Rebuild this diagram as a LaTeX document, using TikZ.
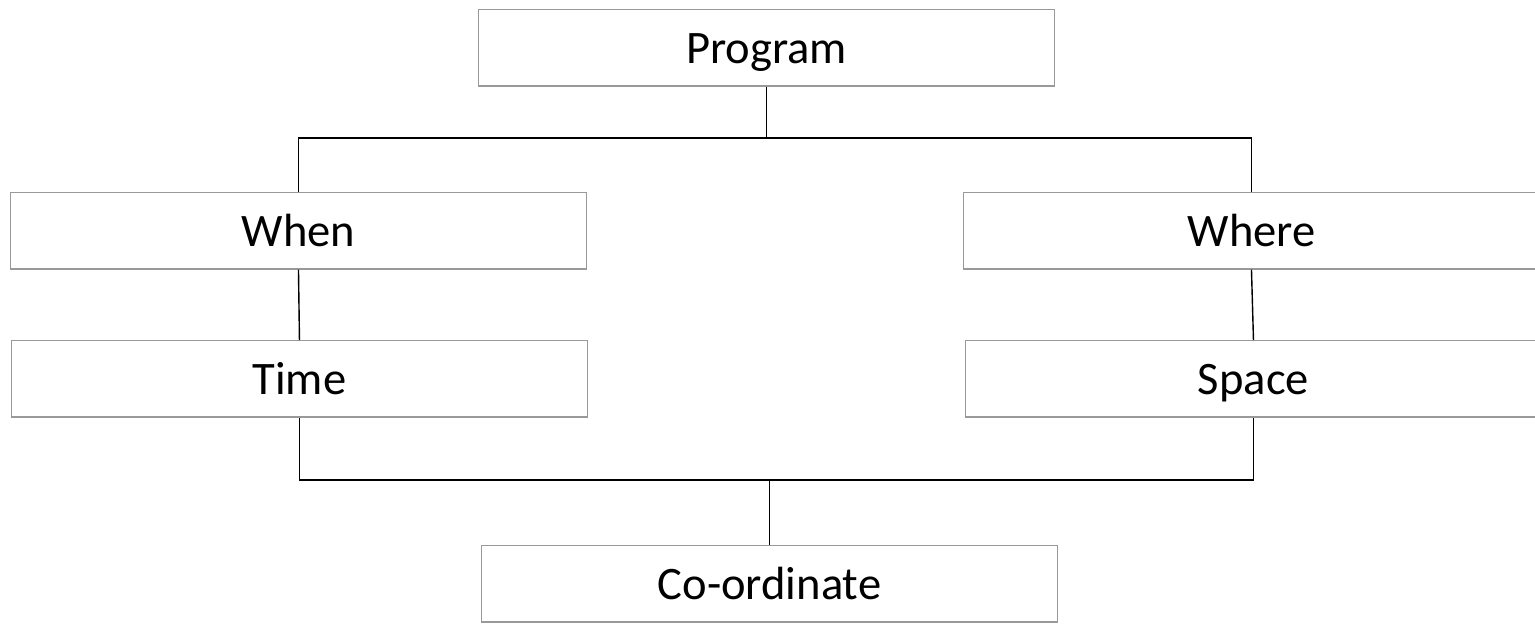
\documentclass[tikz,border=0pt]{standalone}
\usepackage{fontspec}
\setmainfont{Carlito}
\usepackage{tikz}
\usetikzlibrary{positioning,calc}

\begin{document}
\begin{tikzpicture}[x=0.02cm,y=-0.02cm,
  box/.style={draw=black!40,line width=0.6pt,fill=white,minimum width=11.52cm,minimum height=1.53cm,
    anchor=north west,inner sep=0pt,text height=22pt,text depth=3.8pt,font=\fontsize{26.5}{30}\selectfont},
  link/.style={draw=black,line width=0.8pt}]
\useasboundingbox (0,0) rectangle (1535,623);
\clip (0,0) rectangle (1535,623);
% boxes
\node[box] (prog)  at (478,9)   {Program};
\node[box] (when)  at (10,192)  {When};
\node[box] (where) at (963,192) {Where};
\node[box] (time)  at (11,340)  {Time};
\node[box] (space) at (965,340) {Space};
\node[box] (coord) at (481,545) {Co-ordinate};
% bars
\coordinate (topbar) at (766,138);
\coordinate (botbar) at (769,480);
\draw[link] (prog.south) -- (prog.south |- topbar);
\draw[link] (when.north) -- (when.north |- topbar) -- (where.north |- topbar) -- (where.north);
\draw[link] (when.south) -- (time.north);
\draw[link] (where.south) -- (space.north);
\draw[link] (time.south) -- (time.south |- botbar) -- (space.south |- botbar) -- (space.south);
\draw[link] (coord.north) -- (coord.north |- botbar);
\end{tikzpicture}
\end{document}
